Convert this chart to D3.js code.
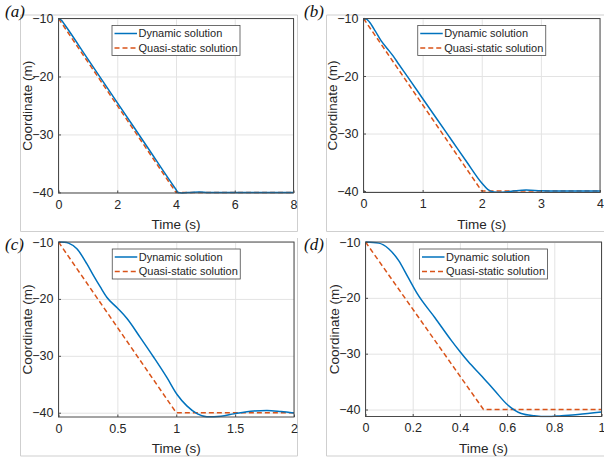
<!DOCTYPE html>
<html>
<head>
<meta charset="utf-8">
<script src="https://cdn.jsdelivr.net/npm/d3@7"></script>
<style>
    body { margin: 0; background: #fff; }
    text { font-family: "Liberation Sans", Arial, sans-serif; fill: #262626; }
</style>
</head>
<body>
<div id="chart"></div>
<script>
// values (time in s, coordinate in m)
const panelLabels = ["(a)", "(b)", "(c)", "(d)"]
const seriesNames = ["Dynamic solution", "Quasi-static solution"]
const yTicks = [-10, -20, -30, -40]
const yMin = [-40.1, -40.25, -40.75, -41.25]
const xTicksA = [0, 2, 4, 6, 8]
const xTicksB = [0, 1, 2, 3, 4]
const xTicksC = [0, 0.5, 1, 1.5, 2]
const xTicksD = [0, 0.2, 0.4, 0.6, 0.8, 1]

const quasiA_t = [0, 4, 8]
const quasiA_y = [-10, -40, -40]
const quasiB_t = [0, 2, 4]
const quasiB_y = [-10, -40, -40]
const quasiC_t = [0, 1, 2]
const quasiC_y = [-10, -40, -40]
const quasiD_t = [0, 0.5, 1]
const quasiD_y = [-10, -40, -40]

const dynamicA_t = [0, 0.1, 0.2, 1, 2, 3, 4, 4.07, 4.2, 4.5, 4.8, 5.1, 5.5, 8]
const dynamicA_y = [-10, -10.3, -11.0, -17.0, -24.5, -32.0, -39.5, -40.0, -40.08, -40.0, -39.92, -40.0, -40.0, -40.0]
const dynamicB_t = [0, 0.05, 0.1, 0.2, 0.3, 0.4, 0.5, 0.6, 0.75, 1, 1.25, 1.5, 1.75, 2, 2.1, 2.2, 2.3, 2.5, 2.75, 3, 3.2, 3.5, 4]
const dynamicB_y = [-10, -10.1, -10.6, -12.2, -13.9, -15.2, -16.5, -18.0, -20.2, -23.9, -27.6, -31.3, -35.0, -38.6, -39.7, -40.15, -40.22, -40.05, -39.82, -39.95, -40.0, -40.0, -40.0]
const dynamicC_t = [0, 0.05, 0.085, 0.156, 0.24, 0.3, 0.355, 0.41, 0.5, 0.58, 0.695, 0.81, 0.92, 1.007, 1.09, 1.18, 1.26, 1.38, 1.49, 1.66, 1.77, 1.89, 2]
const dynamicC_y = [-10, -10.05, -10.2, -11.2, -13.8, -16.0, -17.9, -19.7, -21.6, -23.4, -26.8, -30.3, -33.8, -36.8, -38.8, -40.2, -40.7, -40.6, -40.2, -39.7, -39.6, -39.8, -40.05]
const dynamicD_t = [0, 0.056, 0.098, 0.14, 0.18, 0.22, 0.295, 0.365, 0.4, 0.435, 0.49, 0.547, 0.603, 0.66, 0.715, 0.77, 0.83, 0.9, 1]
const dynamicD_y = [-10, -10.2, -11.2, -13.3, -16.3, -19.3, -23.6, -27.7, -29.6, -31.4, -33.9, -36.6, -39.2, -40.7, -41.1, -41.25, -41.1, -40.9, -40.45]

// where each axes box sits on the page
const layout = [
    { left: 58.5, right: 293.5, top: 18.5, bottom: 193, frame: [20.5, 15, 297.5, 231.5], frameTop: true, label: [5, 17] },
    { left: 363.5, right: 600, top: 18.5, bottom: 192.5, frame: [326.5, 15, 620, 231.5], frameTop: true, label: [304, 17] },
    { left: 58.5, right: 294, top: 242, bottom: 417, frame: [20.5, 238, 297.5, 456], frameTop: false, label: [5, 249.5] },
    { left: 365.5, right: 601.5, top: 242, bottom: 416.5, frame: [326.5, 238, 620, 456], frameTop: false, label: [304, 249.5] }
]

const BLUE = "#0072BD"
const ORANGE = "#D95319"
const DASH = "5,3"

draw()

function draw() {
    const panels = [
        { xTicks: xTicksA, quasi: zip(quasiA_t, quasiA_y), dynamic: zip(dynamicA_t, dynamicA_y) },
        { xTicks: xTicksB, quasi: zip(quasiB_t, quasiB_y), dynamic: zip(dynamicB_t, dynamicB_y) },
        { xTicks: xTicksC, quasi: zip(quasiC_t, quasiC_y), dynamic: zip(dynamicC_t, dynamicC_y) },
        { xTicks: xTicksD, quasi: zip(quasiD_t, quasiD_y), dynamic: zip(dynamicD_t, dynamicD_y) }
    ]

    var svg = d3.select("#chart")
        .append("svg")
        .attr("width", 604)
        .attr("height", 462)

    panels.forEach((p, i) => drawPanel(svg, p, layout[i], i))
}

function drawPanel(svg, p, box, i) {
    let g = svg.append("g")

    // light border of the sub-figure
    let [fx0, fy0, fx1, fy1] = box.frame
    let framePath = box.frameTop
        ? `M${fx0},${fy0}H${fx1}M${fx0},${fy0}V${fy1}H${fx1}M${fx1},${fy0}V${fy1}`
        : `M${fx0},${fy0}V${fy1}H${fx1}M${fx1},${fy0}V${fy1}`
    g.append("path")
        .attr("d", framePath)
        .attr("fill", "none")
        .attr("stroke", "#cfcfcf")
        .attr("stroke-width", 1)

    g.append("text")
        .attr("x", box.label[0])
        .attr("y", box.label[1])
        .style("font-family", "'Liberation Serif', 'Times New Roman', serif")
        .style("font-style", "italic")
        .style("font-size", "17px")
        .style("fill", "#111")
        .text(panelLabels[i])

    let xMax = p.xTicks[p.xTicks.length - 1]
    var x = d3.scaleLinear().domain([0, xMax]).range([box.left, box.right])
    var y = d3.scaleLinear().domain([yMin[i], -10]).range([box.bottom, box.top])

    // grid
    g.append("g")
        .attr("transform", `translate(0,${box.bottom})`)
        .call(d3.axisBottom(x).tickValues(p.xTicks).tickSize(-(box.bottom - box.top)).tickFormat(""))
        .call(s => s.select(".domain").remove())
        .selectAll("line").attr("stroke", "#e3e3e3")
    g.append("g")
        .attr("transform", `translate(${box.left},0)`)
        .call(d3.axisLeft(y).tickValues(yTicks).tickSize(-(box.right - box.left)).tickFormat(""))
        .call(s => s.select(".domain").remove())
        .selectAll("line").attr("stroke", "#e3e3e3")

    // clip the curves to the axes box
    let clipId = "clip" + i
    svg.append("clipPath").attr("id", clipId)
        .append("rect")
        .attr("x", box.left).attr("y", box.top - 1)
        .attr("width", box.right - box.left).attr("height", box.bottom - box.top + 2)

    let line = d3.line().x(d => x(d[0])).y(d => y(d[1])).curve(d3.curveMonotoneX)

    g.append("path")
        .datum(p.quasi)
        .attr("clip-path", `url(#${clipId})`)
        .attr("d", d3.line().x(d => x(d[0])).y(d => y(d[1])))
        .attr("fill", "none")
        .attr("stroke", ORANGE)
        .attr("stroke-width", 1.5)
        .attr("stroke-dasharray", DASH)

    g.append("path")
        .datum(p.dynamic)
        .attr("clip-path", `url(#${clipId})`)
        .attr("d", line)
        .attr("fill", "none")
        .attr("stroke", BLUE)
        .attr("stroke-width", 1.5)

    // axes with inward ticks, MATLAB-like
    let xAxis = g.append("g")
        .attr("transform", `translate(0,${box.bottom})`)
        .call(d3.axisBottom(x).tickValues(p.xTicks).tickSize(-2.5).tickPadding(5).tickFormat(d3.format("")))
    let yAxis = g.append("g")
        .attr("transform", `translate(${box.left},0)`)
        .call(d3.axisLeft(y).tickValues(yTicks).tickSize(-2.5).tickPadding(5).tickFormat(d3.format("")))
    ;[xAxis, yAxis].forEach(a => {
        a.select(".domain").remove()
        a.selectAll("line").attr("stroke", "#4a4a4a")
        a.selectAll("text")
            .style("font-size", "12.5px")
            .style("font-family", "'Liberation Sans', Arial, sans-serif")
            .attr("fill", "#262626")
    })
    xAxis.selectAll("text").attr("dy", "0.85em")

    g.append("rect")
        .attr("x", box.left)
        .attr("y", box.top)
        .attr("width", box.right - box.left)
        .attr("height", box.bottom - box.top)
        .attr("fill", "none")
        .attr("stroke", "#4a4a4a")
        .attr("stroke-width", 1)

    // axis titles
    g.append("text")
        .attr("x", (box.left + box.right) / 2)
        .attr("y", box.bottom + 36)
        .attr("text-anchor", "middle")
        .style("font-size", "13.5px")
        .text("Time (s)")

    g.append("text")
        .attr("transform", `translate(${box.left - 26.5},${(box.top + box.bottom) / 2}) rotate(-90)`)
        .attr("text-anchor", "middle")
        .style("font-size", "13.5px")
        .text("Coordinate (m)")

    drawLegend(g, box)
}

function drawLegend(g, box) {
    const w = 128, h = 30
    let lx = (box.left + box.right) / 2 - w / 2
    let ly = box.top + 7

    let leg = g.append("g").attr("transform", `translate(${lx},${ly})`)
    leg.append("rect")
        .attr("width", w)
        .attr("height", h)
        .attr("fill", "#fff")
        .attr("stroke", "#4a4a4a")
        .attr("stroke-width", 0.8)

    seriesNames.forEach((name, k) => {
        let yy = 8 + k * 14.5
        leg.append("line")
            .attr("x1", 2.5).attr("x2", 25)
            .attr("y1", yy).attr("y2", yy)
            .attr("stroke", k === 0 ? BLUE : ORANGE)
            .attr("stroke-width", 1.5)
            .attr("stroke-dasharray", k === 0 ? null : DASH)
        leg.append("text")
            .attr("x", 26.5)
            .attr("y", yy)
            .attr("dy", "0.35em")
            .style("font-size", "11px")
            .text(name)
    })
}

//pairs two arrays into [t, y] points
function zip(t, v) {
    return t.map((d, i) => [d, v[i]])
}
</script>
</body>
</html>
